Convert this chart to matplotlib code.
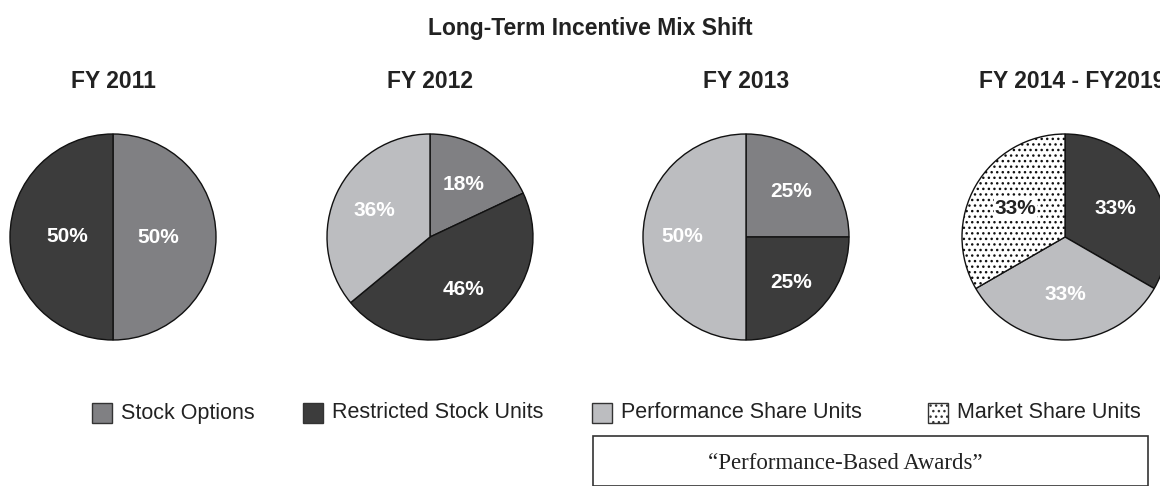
import matplotlib.pyplot as plt
from matplotlib.patches import Rectangle

plt.rcParams['font.family'] = ['Liberation Sans', 'DejaVu Sans']
plt.rcParams['hatch.linewidth'] = 1.0
plt.rcParams['hatch.color'] = '#111111'

# data: share of the long-term incentive mix, clockwise from 12 o'clock
periods = ['FY 2011', 'FY 2012', 'FY 2013', 'FY 2014 - FY2019']
categories = ['Stock Options', 'Restricted Stock Units',
              'Performance Share Units', 'Market Share Units']
stock_options = [50, 18, 25, 0]
rsu = [50, 46, 25, 33]
psu = [0, 36, 50, 33]
msu = [0, 0, 0, 33]

colors = ['#808083', '#3c3c3c', '#bcbdc0', 'white']
hatches = [None, None, None, '...']
label_colors = ['white', 'white', 'white', '#222222']

W, H = 1160, 486
fig = plt.figure(figsize=(W / 100, H / 100), dpi=100)

centers_x = [113, 430, 746, 1065]
title_x = [113, 430, 746, 1072]
center_y = 237
radius_px = 103
pct_dist = [0.44, 0.6, 0.62, 0.56]

for i, period in enumerate(periods):
    s = 2.1 * radius_px
    ax = fig.add_axes([(centers_x[i] - s / 2) / W, (H - center_y - s / 2) / H, s / W, s / H])
    vals = [stock_options[i], rsu[i], psu[i], msu[i]]
    idx = [k for k, v in enumerate(vals) if v > 0]
    wedges, _, autotexts = ax.pie(
        [vals[k] for k in idx], colors=[colors[k] for k in idx],
        startangle=90, counterclock=False, pctdistance=pct_dist[i],
        autopct='%1.0f%%', labels=None,
        wedgeprops=dict(edgecolor='#111111', linewidth=1.0),
        textprops=dict(fontsize=15, fontweight='bold'))
    for w, t, k in zip(wedges, autotexts, idx):
        t.set_text(f'{vals[k]}%')
        t.set_color(label_colors[k])
        if hatches[k]:
            w.set_hatch(hatches[k])
            t.set_bbox(dict(facecolor='white', edgecolor='none', pad=0.5))
    ax.set_xlim(-1.05, 1.05)
    ax.set_ylim(-1.05, 1.05)
    ax.set_aspect('equal')
    ax.axis('off')
    fig.text(title_x[i] / W, 1 - 81 / H, period, ha='center', va='center',
             fontsize=16.5, fontweight='bold', color='#222222')

fig.text(590 / W, 1 - 29 / H, 'Long-Term Incentive Mix Shift', ha='center',
         va='center', fontsize=16.5, fontweight='bold', color='#222222')

# legend
leg_x = [92, 303, 592, 928]
leg_y = 413
for k, name in enumerate(categories):
    fig.add_artist(Rectangle((leg_x[k] / W, 1 - (leg_y + 10) / H), 20 / W, 20 / H,
                             transform=fig.transFigure, facecolor=colors[k],
                             edgecolor='#333333', linewidth=1.0,
                             hatch=hatches[k]))
    fig.text((leg_x[k] + 29) / W, 1 - leg_y / H, name, ha='left', va='center',
             fontsize=15.5, color='#222222')

fig.add_artist(Rectangle((593 / W, 0), (1148 - 593) / W, 50 / H,
                         transform=fig.transFigure, facecolor='none',
                         edgecolor='#333333', linewidth=1.2))
fig.text(845 / W, 1 - 463 / H, '\u201cPerformance-Based Awards\u201d', ha='center',
         va='center', fontsize=16.5, family='Liberation Serif', color='#222222')

fig.savefig('out.png', dpi=100)
